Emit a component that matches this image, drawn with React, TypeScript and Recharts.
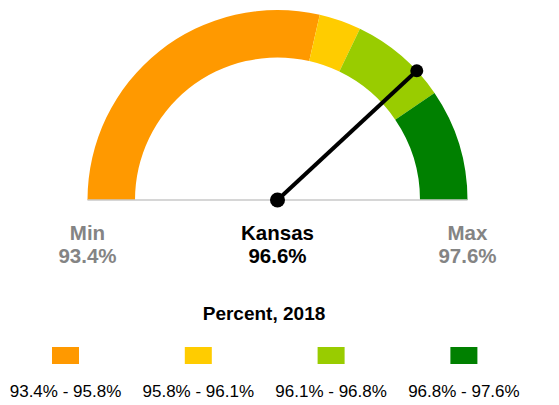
import React from 'react';
import { PieChart, Pie, Cell } from 'recharts';

// gauge data
const BOUNDS = [93.4, 95.8, 96.1, 96.8, 97.6];
const COLORS = ['#ff9900', '#ffcc00', '#99cc00', '#008000'];
const STATE_NAME = 'Kansas';
const STATE_VALUE = 96.6;
const TITLE = 'Percent, 2018';

const W = 559;
const H = 405;
const CX = 277.5;
const CY = 200;
const INNER = 142.5;
const OUTER = 190;

const MIN = BOUNDS[0];
const MAX = BOUNDS[BOUNDS.length - 1];

const segments = BOUNDS.slice(1).map((b, i) => ({
  name: `${BOUNDS[i].toFixed(1)}% - ${b.toFixed(1)}%`,
  value: b - BOUNDS[i],
}));

const FONT = '"Liberation Sans", Arial, sans-serif';

function Needle() {
  const frac = (STATE_VALUE - MIN) / (MAX - MIN);
  const ang = Math.PI - frac * Math.PI;
  const tx = CX + OUTER * Math.cos(ang);
  const ty = CY - OUTER * Math.sin(ang);
  return (
    <g>
      <line x1={CX} y1={CY} x2={tx} y2={ty} stroke="#000" strokeWidth={4} />
      <circle cx={CX} cy={CY} r={7.5} fill="#000" />
      <circle cx={tx} cy={ty} r={6.5} fill="#000" />
    </g>
  );
}

export default function App() {
  const grey = '#848484';
  return (
    <div style={{ position: 'absolute', left: 0, top: 0, width: W, height: H, background: '#fff' }}>
      <PieChart width={W} height={H} margin={{ top: 0, right: 0, bottom: 0, left: 0 }}>
        <Pie
          data={segments}
          dataKey="value"
          nameKey="name"
          cx={CX}
          cy={CY}
          startAngle={180}
          endAngle={0}
          innerRadius={INNER}
          outerRadius={OUTER}
          stroke="none"
          isAnimationActive={false}
        >
          {segments.map((_, i) => (
            <Cell key={i} fill={COLORS[i]} />
          ))}
        </Pie>
      </PieChart>
      <svg width={W} height={H} style={{ position: 'absolute', left: 0, top: 0, pointerEvents: 'none' }}>
        <line x1={CX - OUTER} y1={CY} x2={CX + OUTER} y2={CY} stroke="#c8c8c8" strokeWidth={1.5} />
        <Needle />
        <g fontFamily={FONT} fontWeight="bold" fontSize={20.5} textAnchor="middle">
          <text x={CX - OUTER} y={239.5} fill={grey}>Min</text>
          <text x={CX - OUTER} y={263} fill={grey}>{MIN.toFixed(1)}%</text>
          <text x={CX} y={239.5} fill="#000">{STATE_NAME}</text>
          <text x={CX} y={263} fill="#000">{STATE_VALUE.toFixed(1)}%</text>
          <text x={CX + OUTER} y={239.5} fill={grey}>Max</text>
          <text x={CX + OUTER} y={263} fill={grey}>{MAX.toFixed(1)}%</text>
        </g>
        <text x={264} y={320} fontFamily={FONT} fontWeight="bold" fontSize={19} textAnchor="middle" fill="#000">
          {TITLE}
        </text>
        {segments.map((s, i) => {
          const x = 65.5 + i * 132.8;
          return (
            <g key={s.name}>
              <rect x={x - 13.5} y={347} width={27} height={17} fill={COLORS[i]} />
              <text x={x} y={397} fontFamily={FONT} fontSize={17} textAnchor="middle" fill="#000">
                {s.name}
              </text>
            </g>
          );
        })}
      </svg>
    </div>
  );
}
